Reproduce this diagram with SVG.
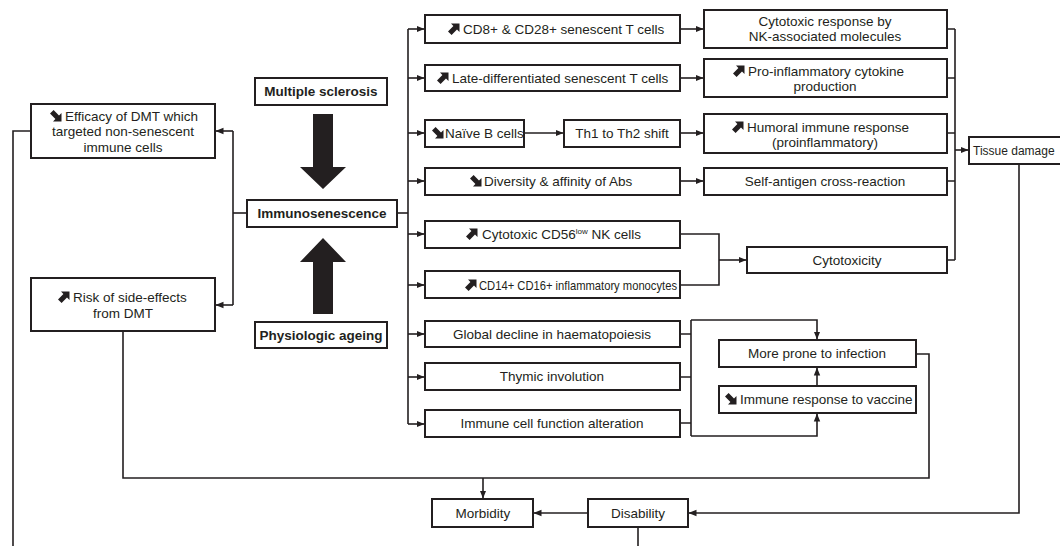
<svg xmlns="http://www.w3.org/2000/svg" width="1060" height="546" viewBox="0 0 1060 546">
<defs>
<style>
.b{fill:#fff;stroke:#231f20;stroke-width:2}
.t{font-family:"Liberation Sans",Arial,sans-serif;font-size:13.5px;fill:#231f20}
.c{text-anchor:middle}
.bd{font-weight:bold}
.l{fill:none;stroke:#231f20;stroke-width:1.6}
.big{fill:#231f20}
.ic{fill:#231f20}
</style>
<marker id="ah" viewBox="0 0 8 8" refX="7.5" refY="4" markerWidth="8" markerHeight="8" markerUnits="userSpaceOnUse" orient="auto">
<path d="M0,0.8 L8,4 L0,7.2 Z" fill="#231f20"/>
</marker>
<path id="up" d="M10.5,-0.5 L10.5,8 L8,5.6 L2.6,11 L-1,7.4 L4.4,2 L2,-0.5 Z"/>
<path id="dn" d="M10.5,10.5 L10.5,2 L8,4.4 L2.6,-1 L-1,2.6 L4.4,8 L2,10.5 Z"/>
</defs>
<rect width="1060" height="546" fill="#fff"/>

<g id="connectors">
<path class="l" d="M397,213 H408"/>
<path class="l" d="M408,29 V424"/>
<path class="l" d="M408,29 H424" marker-end="url(#ah)"/>
<path class="l" d="M408,78 H424" marker-end="url(#ah)"/>
<path class="l" d="M408,133 H424" marker-end="url(#ah)"/>
<path class="l" d="M408,181 H424" marker-end="url(#ah)"/>
<path class="l" d="M408,234 H424" marker-end="url(#ah)"/>
<path class="l" d="M408,285 H424" marker-end="url(#ah)"/>
<path class="l" d="M408,334 H424" marker-end="url(#ah)"/>
<path class="l" d="M408,377 H424" marker-end="url(#ah)"/>
<path class="l" d="M408,424 H424" marker-end="url(#ah)"/>
<path class="l" d="M247,213 H233"/>
<path class="l" d="M233,131 V305"/>
<path class="l" d="M233,131 H216" marker-end="url(#ah)"/>
<path class="l" d="M233,305 H216" marker-end="url(#ah)"/>
<path class="l" d="M680,29 H703" marker-end="url(#ah)"/>
<path class="l" d="M680,78 H703" marker-end="url(#ah)"/>
<path class="l" d="M524,133 H563" marker-end="url(#ah)"/>
<path class="l" d="M680,133 H703" marker-end="url(#ah)"/>
<path class="l" d="M680,181 H703" marker-end="url(#ah)"/>
<path class="l" d="M947,29 H955 M947,78 H955 M947,133 H955 M947,181 H955 M947,260 H955 M955,29 V260"/>
<path class="l" d="M955,150 H968" marker-end="url(#ah)"/>
<path class="l" d="M680,234 H719 V285 H680"/>
<path class="l" d="M719,260 H746" marker-end="url(#ah)"/>
<path class="l" d="M680,334 H691 M680,377 H691 M680,423 H691 M691,320 V436"/>
<path class="l" d="M691,320 H817 V339" marker-end="url(#ah)"/>
<path class="l" d="M691,436 H817 V414" marker-end="url(#ah)"/>
<path class="l" d="M817,386 V368" marker-end="url(#ah)"/>
<path class="l" d="M916,354 H929 V478 H123 V331"/>
<path class="l" d="M483,478 V498" marker-end="url(#ah)"/>
<path class="l" d="M1019,164 V513 H689" marker-end="url(#ah)"/>
<path class="l" d="M588,513 H534" marker-end="url(#ah)"/>
<path class="l" d="M638,527 V546"/>
<path class="l" d="M31,131 H13 V546"/>
</g>

<g id="bigarrows">
<path class="big" d="M313,114 H333 V167 H346 L323,189 L300,167 H313 Z"/>
<path class="big" d="M323,238 L346,262 H333 V314 H313 V262 H300 Z"/>
</g>

<g id="n-ms"><rect class="b" x="255" y="78" width="132" height="27"/><text class="t c bd" x="321" y="96">Multiple sclerosis</text></g>
<g id="n-immuno"><rect class="b" x="247" y="200" width="150" height="27"/><text class="t c bd" x="322" y="218">Immunosenescence</text></g>
<g id="n-ageing"><rect class="b" x="255" y="322" width="132" height="26"/><text class="t c bd" x="321" y="340">Physiologic ageing</text></g>

<g id="n-efficacy"><rect class="b" x="31" y="104" width="184" height="54"/>
<use href="#dn" class="ic" x="51" y="111"/>
<text class="t" x="65" y="121">Efficacy of DMT which</text>
<text class="t c" x="123" y="136">targeted non-senescent</text>
<text class="t c" x="123" y="152">immune cells</text></g>
<g id="n-risk"><rect class="b" x="31" y="278" width="184" height="53"/>
<use href="#up" class="ic" x="59" y="292"/>
<text class="t" x="73" y="302">Risk of side-effects</text>
<text class="t c" x="123" y="318">from DMT</text></g>

<g id="n-cd8"><rect class="b" x="425" y="15" width="255" height="28"/><use href="#up" class="ic" x="449" y="24"/><text class="t" x="463" y="34">CD8+ &amp; CD28+ senescent T cells</text></g>
<g id="n-late"><rect class="b" x="425" y="65" width="255" height="26"/><use href="#up" class="ic" x="438" y="73"/><text class="t" x="452" y="83">Late-differentiated senescent T cells</text></g>
<g id="n-naive"><rect class="b" x="425" y="120" width="99" height="27"/><use href="#dn" class="ic" x="433" y="128"/><text class="t" x="445" y="138">Naïve B cells</text></g>
<g id="n-th"><rect class="b" x="564" y="120" width="116" height="27"/><text class="t c" x="622" y="138">Th1 to Th2 shift</text></g>
<g id="n-div"><rect class="b" x="425" y="168" width="255" height="27"/><use href="#dn" class="ic" x="471" y="176"/><text class="t" x="484" y="186">Diversity &amp; affinity of Abs</text></g>
<g id="n-cd56"><rect class="b" x="425" y="221" width="255" height="27"/><use href="#up" class="ic" x="467" y="229"/><text class="t" x="482" y="239">Cytotoxic CD56<tspan font-size="8" dy="-5">low</tspan><tspan dy="5"> NK cells</tspan></text></g>
<g id="n-cd14"><rect class="b" x="425" y="271" width="255" height="27"/><use href="#up" class="ic" x="466" y="280"/><text class="t" x="479" y="290" font-size="14" textLength="198" lengthAdjust="spacingAndGlyphs">CD14+ CD16+ inflammatory monocytes</text></g>
<g id="n-global"><rect class="b" x="425" y="321" width="255" height="26"/><text class="t c" x="552" y="339">Global decline in haematopoiesis</text></g>
<g id="n-thymic"><rect class="b" x="425" y="363" width="255" height="27"/><text class="t c" x="552" y="381">Thymic involution</text></g>
<g id="n-icf"><rect class="b" x="425" y="410" width="255" height="27"/><text class="t c" x="552" y="428">Immune cell function alteration</text></g>

<g id="n-cytoresp"><rect class="b" x="704" y="10" width="243" height="38"/><text class="t c" x="825" y="26">Cytotoxic response by</text><text class="t c" x="825" y="41">NK-associated molecules</text></g>
<g id="n-proinf"><rect class="b" x="704" y="59" width="243" height="38"/><use href="#up" class="ic" x="734" y="66"/><text class="t" x="748" y="76">Pro-inflammatory cytokine</text><text class="t c" x="825" y="91">production</text></g>
<g id="n-humoral"><rect class="b" x="704" y="114" width="243" height="39"/><use href="#up" class="ic" x="733" y="122"/><text class="t" x="747" y="132">Humoral immune response</text><text class="t c" x="825" y="147">(proinflammatory)</text></g>
<g id="n-self"><rect class="b" x="704" y="168" width="243" height="27"/><text class="t c" x="825" y="186">Self-antigen cross-reaction</text></g>
<g id="n-cytotox"><rect class="b" x="747" y="247" width="200" height="26"/><text class="t c" x="847" y="265">Cytotoxicity</text></g>
<g id="n-tissue"><rect class="b" x="969" y="137" width="110" height="27"/><text class="t" x="973" y="155" font-size="12" style="font-size:12px">Tissue damage</text></g>
<g id="n-prone"><rect class="b" x="719" y="340" width="197" height="27"/><text class="t c" x="817" y="358">More prone to infection</text></g>
<g id="n-vaccine"><rect class="b" x="719" y="386" width="197" height="27"/><use href="#dn" class="ic" x="726" y="394"/><text class="t" x="740" y="404">Immune response to vaccine</text></g>
<g id="n-morb"><rect class="b" x="432" y="499" width="101" height="28"/><text class="t c" x="483" y="518">Morbidity</text></g>
<g id="n-dis"><rect class="b" x="588" y="499" width="100" height="28"/><text class="t c" x="638" y="518">Disability</text></g>
</svg>
